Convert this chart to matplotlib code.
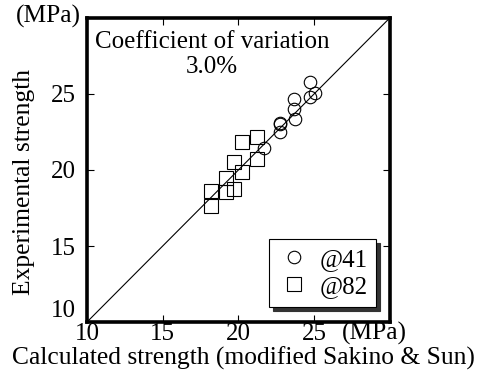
#!/usr/bin/env python3
"""
Experimental vs. calculated strength (modified Sakino & Sun), with 1:1 line.
"""
import matplotlib.pyplot as plt

# @41 specimens
calc_41 = [24.74, 25.07, 24.74, 23.70, 23.70, 23.75, 22.74, 22.78, 22.74, 21.71]
exp_41 = [25.79, 25.04, 24.78, 24.69, 24.03, 23.37, 23.07, 23.02, 22.52, 21.43]

# @82 specimens
calc_82 = [20.24, 21.23, 21.23, 19.74, 20.24, 19.19, 19.74, 19.19, 18.20, 18.20]
exp_82 = [21.84, 22.15, 20.74, 20.55, 19.85, 19.45, 18.75, 18.57, 18.64, 17.65]

ticks = [10, 15, 20, 25]
lims = (10, 30)
cov_text = "Coefficient of variation\n3.0%"

FS = 18
plt.rcParams["font.family"] = ["Liberation Serif", "DejaVu Serif"]
plt.rcParams["font.size"] = FS

fig = plt.figure(figsize=(4.86, 3.82), dpi=100)
ax = fig.add_axes([0.179, 0.157, 0.623, 0.796])

ax.plot(lims, lims, color="black", lw=0.8, zorder=1)
ax.plot(calc_41, exp_41, "o", ms=9, mfc="none", mec="black", mew=0.8,
        label="@41", zorder=2)
ax.plot(calc_82, exp_82, "s", ms=9.5, mfc="none", mec="black", mew=0.8,
        label="@82", zorder=2)

ax.set_xlim(lims)
ax.set_ylim(lims)
ax.set_xticks(ticks)
ax.set_yticks(ticks)
ax.tick_params(direction="in", length=5, width=0.8, top=True, right=True,
               labelsize=FS)
ax.tick_params(axis="x", pad=1)
ax.tick_params(axis="y", pad=8)
for s in ax.spines.values():
    s.set_linewidth(2.6)

# lowest y label sits on the corner
ax.get_yticklabels()[0].set_verticalalignment("bottom")

ax.text(0.413, 0.88, cov_text, transform=ax.transAxes, ha="center",
        va="center", fontsize=FS, linespacing=1.18)

leg = ax.legend(loc="lower right", bbox_to_anchor=(0.955, 0.05),
                frameon=True, fancybox=False, edgecolor="black",
                shadow={"color": "0.2", "alpha": 1.0, "ox": 3, "oy": -3},
                fontsize=FS, handletextpad=0.35, handlelength=1.3,
                borderpad=0.35, labelspacing=0.2, borderaxespad=0.0)
leg.get_frame().set_linewidth(0.8)

fig.text(0.033, 0.957, "(MPa)", ha="left", va="center", fontsize=18.4)
fig.text(0.704, 0.128, "(MPa)", ha="left", va="center", fontsize=18.4)
fig.text(0.049, 0.524, "Experimental strength", rotation=90, ha="center",
         va="center", fontsize=18.4)
fig.text(0.5, 0.063, "Calculated strength (modified Sakino & Sun)",
         ha="center", va="center", fontsize=18.4)

fig.savefig("out.png", dpi=100)
